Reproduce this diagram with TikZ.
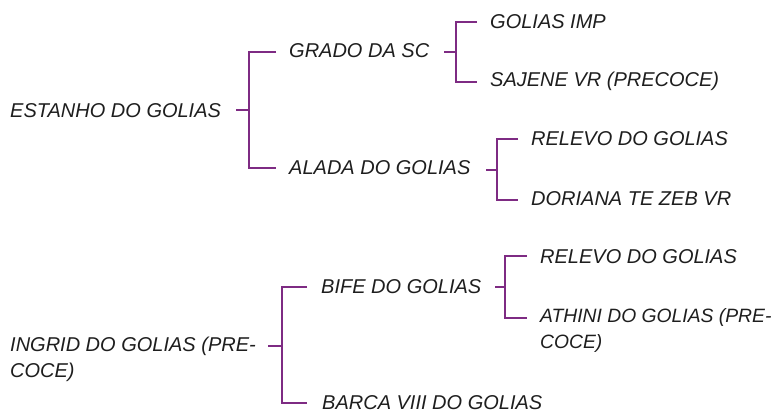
\documentclass[tikz,border=0pt]{standalone}
\usepackage{fontspec}
\setmainfont{Liberation Sans}
\definecolor{brk}{HTML}{7E2B83}
\definecolor{txt}{HTML}{1E1E1E}
\begin{document}
\begin{tikzpicture}[x=1pt,y=-1pt,
  lbl/.style={anchor=base west,inner sep=0pt,font=\fontsize{20}{25.5}\selectfont\itshape,text=txt,align=left},
  brk/.style={draw=brk,line width=2.2pt}]
\useasboundingbox (0,0) rectangle (779,412);
% labels
\node[lbl] (estanho) at (10,117) {ESTANHO DO GOLIAS};
\node[lbl] (grado) at (289,58) {GRADO DA SC};
\node[lbl] (alada) at (289,174) {ALADA DO GOLIAS};
\node[lbl] (golias) at (490,29) {GOLIAS IMP};
\node[lbl] (sajene) at (490,87) {SAJENE VR (PRECOCE)};
\node[lbl] (relevoa) at (531,145) {RELEVO DO GOLIAS};
\node[lbl] (doriana) at (531,205) {DORIANA TE ZEB VR};
\node[lbl] (ingrid) at (10,377) {INGRID DO GOLIAS (PRE-\\COCE)};
\node[lbl] (bife) at (321,293) {BIFE DO GOLIAS};
\node[lbl] (barca) at (322,409) {BARCA VIII DO GOLIAS};
\node[lbl] (relevob) at (540,263) {RELEVO DO GOLIAS};
\node[lbl,font=\fontsize{19.3}{25.5}\selectfont\itshape] (athini) at (540,348) {ATHINI DO GOLIAS (PRE-\\COCE)};
% bracket points
\coordinate (s1) at (236,110); \coordinate (v1) at (249,110);
\coordinate (t1) at (276,52); \coordinate (b1) at (276,168);
\coordinate (s2) at (444,52); \coordinate (v2) at (456,52);
\coordinate (t2) at (477,22); \coordinate (b2) at (477,82);
\coordinate (s3) at (486,170); \coordinate (v3) at (497,170);
\coordinate (t3) at (518,139); \coordinate (b3) at (518,200);
\coordinate (s4) at (268,346); \coordinate (v4) at (282,346);
\coordinate (t4) at (307,287); \coordinate (b4) at (307,403);
\coordinate (s5) at (495,287); \coordinate (v5) at (505,287);
\coordinate (t5) at (527,256); \coordinate (b5) at (527,318);
% brackets
\foreach \i in {1,...,5}{
  \draw[brk] (s\i) -- (v\i);
  \draw[brk] (t\i) -| (v\i) |- (b\i);
}
\end{tikzpicture}
\end{document}
